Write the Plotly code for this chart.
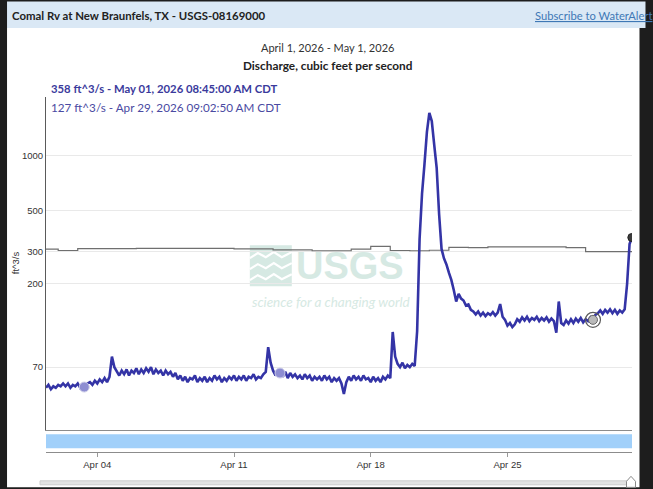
import plotly.graph_objects as go
import pandas as pd

# ---------------- data ----------------
# instantaneous discharge, 3-hourly readings from Apr 1 09:00 (ft^3/s), final reading May 1 08:45
flow_values = [
    54, 56, 53, 55, 54, 56, 55, 57,          # Apr 1-2
    55, 57, 54, 56, 55, 57, 54, 56,
    55, 57, 58, 56, 59, 57, 60, 58,
    61, 58, 62, 80, 70, 66, 63, 67,
    64, 68, 63, 67, 65, 69, 64, 68,
    65, 69, 66, 70, 64, 68, 65, 67,
    63, 67, 64, 66, 62, 65, 60, 63,
    59, 62, 58, 61, 60, 63, 58, 61,
    59, 62, 58, 61, 59, 63, 60, 62,
    58, 61, 59, 62, 60, 63, 59, 62,
    60, 63, 59, 62, 61, 64, 60, 62,
    61, 64, 66, 90, 74, 67, 63, 66,
    65, 62, 66, 61, 65, 62, 64, 61,
    63, 60, 64, 61, 63, 59, 62, 60,
    62, 59, 63, 60, 62, 58, 61, 59,
    61, 57, 50, 58, 62, 59, 63, 60,
    62, 59, 63, 60, 61, 58, 62, 59,
    61, 58, 62, 60, 63, 61, 109, 80,
    73, 70, 74, 69, 72, 70, 73, 71,
    110, 350, 620, 900, 1350, 1720, 1550, 1150,
    860, 480, 310, 275, 255, 230, 210, 185,
    160, 176, 166, 162, 152, 154, 144, 141,
    136, 141, 134, 139, 133, 138, 135, 140,
    134, 139, 155, 132, 127, 118, 122, 116,
    120, 128, 124, 131, 126, 132, 125, 130,
    127, 132, 125, 130, 126, 131, 124, 129,
    125, 108, 160, 122, 119, 126, 121, 128,
    122, 129, 124, 130, 123, 128, 125, 131,
    127, 135, 138, 143, 137, 144, 139, 145,
    138, 144, 137, 143, 139, 145, 200, 330,
    358,
]
flow_times = list(pd.date_range("2026-04-01 09:00", periods=240, freq="3h")) + [pd.Timestamp("2026-05-01 08:45")]

# daily statistic (gray reference line), Apr 1 .. May 2 midnights
stat_values = [309, 304, 311, 311, 311, 312, 312, 312, 312, 312, 310, 310, 306, 306, 303, 303,
               309, 320, 304, 303, 305, 316, 315, 318, 318, 318, 318, 315, 300, 300, 300, 300]
stat_times = pd.date_range("2026-04-01", periods=32, freq="D")

# field measurements
meas_times = ["2026-04-03 08:00", "2026-04-13 08:30"]
meas_values = [54.5, 65]

# hover readouts
hover_times = ["2026-04-29 09:02:50"]
hover_values = [127]
last_times = ["2026-05-01 08:45"]
last_values = [358]

y_tick_vals = [70, 200, 300, 500, 1000]
y_tick_text = ["70", "200", "300", "500", "1000"]

x_start, x_end = "2026-04-01 09:00", "2026-05-01 09:00"

# ---------------- layout helpers ----------------
W, H = 653, 489
L, R, T, B = 46, 632.5, 97, 451.7
def px(x):
    return (x - L) / (R - L)
def py(y):
    return (B - y) / (B - T)
split = py(430)

HUM = "Lato, Roboto, sans-serif"
TICK = "Liberation Sans, Arial, sans-serif"

fig = go.Figure()

fig.add_trace(go.Scatter(x=stat_times, y=stat_values, mode="lines", line=dict(color="#6f6f6f", width=1.2, shape="hv"),
                         hoverinfo="skip"))
fig.add_trace(go.Scatter(x=flow_times, y=flow_values, mode="lines", line=dict(color="#3434a6", width=2.6),
                         hoverinfo="skip"))
fig.add_trace(go.Scatter(x=meas_times, y=meas_values, mode="markers",
                         marker=dict(size=10, color="#8e8ed2", line=dict(color="#d0d0ea", width=1)), hoverinfo="skip"))
fig.add_trace(go.Scatter(x=hover_times, y=hover_values, mode="markers",
                         marker=dict(size=15, color="rgba(0,0,0,0)", line=dict(color="#5a5a5a", width=1.2)), hoverinfo="skip"))
fig.add_trace(go.Scatter(x=hover_times, y=hover_values, mode="markers",
                         marker=dict(size=9, color="#b9b9b9", line=dict(color="#666", width=1)), hoverinfo="skip"))
fig.add_trace(go.Scatter(x=last_times, y=last_values, mode="markers",
                         marker=dict(size=8, color="#3c3c3c", line=dict(color="#222", width=1)), hoverinfo="skip"))
# invisible anchor trace so the lower date axis (strip + tick labels) is drawn
fig.add_trace(go.Scatter(x=[x_start], y=[0.5], xaxis="x2", yaxis="y2", mode="markers",
                         marker=dict(size=1, opacity=0), hoverinfo="skip"))

shapes = []
def rect(x0, y0, x1, y1, fill, line=None, layer="below", lw=0):
    shapes.append(dict(type="rect", xref="paper", yref="paper", x0=px(x0), x1=px(x1), y0=py(y1), y1=py(y0),
                       fillcolor=fill, line=dict(color=line or fill, width=lw), layer=layer))
def path(points, fill, line, lw=1, layer="below", close=True):
    d = "M" + " L".join(f"{px(a):.5f},{py(b):.5f}" for a, b in points) + (" Z" if close else "")
    shapes.append(dict(type="path", xref="paper", yref="paper", path=d, fillcolor=fill,
                       line=dict(color=line, width=lw), layer=layer))

# page frame
rect(7, 28, 640, 487, "#ffffff")
rect(7, 1.5, 646, 28, "#dae8f5")
# blue strip under the plot
shapes.append(dict(type="rect", xref="paper", yref="paper", x0=0, x1=1, y0=py(448), y1=py(434),
                   fillcolor="#a1d0fa", line=dict(width=0), layer="below"))
# scroll bar
rect(40, 480.5, 629, 484.5, "#e2e2e2", "#cdcdcd", lw=1)
path([(627, 487), (627, 481), (631.5, 476), (636, 481), (636, 487)], "#ffffff", "#8a8a8a", lw=1, layer="above")

# USGS watermark logo block
wm = "#d6e9e3"
rect(250, 245, 292, 286, wm)
for yy in (254, 265, 276):
    path([(250, yy + 4), (258, yy - 1), (266, yy + 3), (274, yy - 2), (282, yy + 3), (292, yy - 2)],
         "rgba(0,0,0,0)", "#ffffff", lw=2.2, close=False)

fig.update_layout(shapes=shapes)

ann = []
def text(x, y, s, size, color="#333", bold=False, xanchor="left", family=HUM, italic=False, angle=0):
    if bold:
        s = f"<b>{s}</b>"
    if italic:
        s = f"<i>{s}</i>"
    ann.append(dict(x=px(x), y=py(y), xref="paper", yref="paper", text=s, showarrow=False, xanchor=xanchor,
                    yanchor="middle", font=dict(size=size, color=color, family=family), textangle=angle))

text(10, 16, "Comal Rv at New Braunfels, TX - USGS-08169000", 11.4, "#222", bold=True)
text(533, 16, "<u>Subscribe to WaterAlert</u>", 11.2, "#3f78b5")
text(328, 48, "April 1, 2026 - May 1, 2026", 11, "#333", xanchor="center")
text(328, 65.5, "Discharge, cubic feet per second", 11.8, "#222", bold=True, xanchor="center")
text(49, 88.5, "358 ft^3/s - May 01, 2026 08:45:00 AM CDT", 11.3, "#3a3a9c", bold=True)
text(49, 106.5, "127 ft^3/s - Apr 29, 2026 09:02:50 AM CDT", 11.7, "#4a4aa2")
text(15, 263, "ft^3/s", 9.5, "#333", xanchor="center", angle=-90, family=TICK)
# watermark text
text(294, 266, "USGS", 38, wm, bold=True, family=TICK)
text(250, 301.5, "science for a changing world", 13.5, wm, italic=True)

fig.update_layout(
    annotations=ann,
    width=W, height=H,
    margin=dict(l=L, r=W - R, t=T, b=H - B, pad=0),
    paper_bgcolor="#1d1d1d",
    plot_bgcolor="rgba(0,0,0,0)",
    showlegend=False,
    xaxis=dict(type="date", range=[x_start, x_end], domain=[0, 1], anchor="y", showline=True, linecolor="#8c8c8c",
               linewidth=1, showgrid=False, showticklabels=False, ticks="", zeroline=False),
    yaxis=dict(type="log", range=[1.5, 3.322], domain=[split, 1], anchor="x", showline=True, linecolor="#5a5a5a",
               linewidth=1, gridcolor="#e9e9e9", gridwidth=1, tickvals=y_tick_vals, ticktext=y_tick_text, ticks="",
               tickfont=dict(size=9.5, color="#333", family=TICK), zeroline=False),
    xaxis2=dict(type="date", range=[x_start, x_end], domain=[0, 1], anchor="y2", showline=True, linecolor="#8c8c8c",
                linewidth=1, showgrid=False, ticks="outside", ticklen=4, tickcolor="#999", tick0="2026-04-04",
                dtick=7 * 86400000, tickformat="%b %d", tickfont=dict(size=9.5, color="#333", family=TICK),
                zeroline=False),
    yaxis2=dict(domain=[0, split], anchor="x2", range=[0, 1], showticklabels=False, showgrid=False, zeroline=False,
                showline=False, ticks=""),
)

fig.write_html("out.html", config={"displayModeBar": False},
               post_script="document.body.style.margin='0';document.body.style.padding='0';"
                           "document.documentElement.style.overflow='hidden';")
